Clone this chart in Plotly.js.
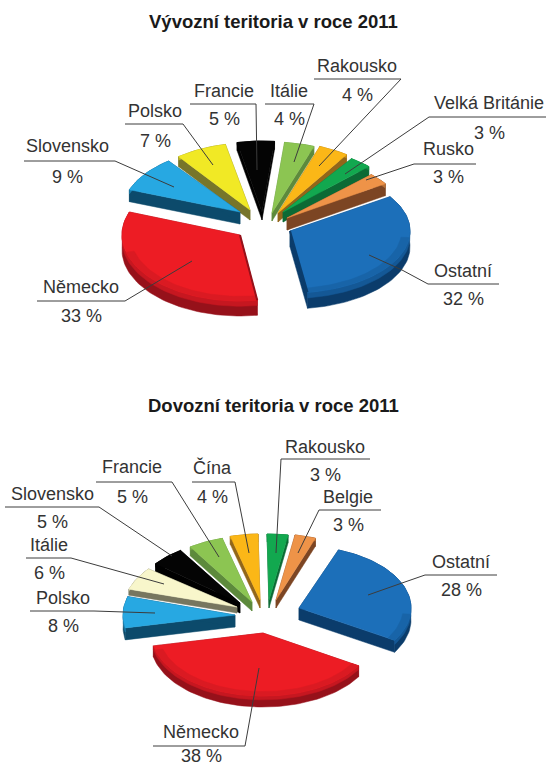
<!DOCTYPE html>
<html lang="cs">
<head>
<meta charset="utf-8">
<title>Vývozní a dovozní teritoria v roce 2011</title>
<script src="https://cdn.plot.ly/plotly-3.0.1.min.js"></script>
<style>html,body{margin:0;padding:0;background:#fff}#chart{width:546px;height:767px}</style>
</head>
<body>
<div id="chart"></div>
<script>
// Shares of trade territories in 2011 (percent)
const exportLabels = ['Itálie','Rakousko','Velká Británie','Rusko','Ostatní','Německo','Slovensko','Polsko','Francie'];
const exportValues = [4,4,3,3,32,33,9,7,5];
const importLabels = ['Rakousko','Belgie','Ostatní','Německo','Polsko','Itálie','Slovensko','Francie','Čína'];
const importValues = [3,3,28,38,8,6,5,5,4];

const exportTitle = 'Vývozní teritoria v roce 2011';
const importTitle = 'Dovozní teritoria v roce 2011';

// Colours per territory: top face and side wall
const BLUE=['#1c6fb9','#0b3c6b'], RED=['#ed1c24','#96111a'], SKY=['#27a8e2','#0c4a6b'],
      YELLOW=['#f1e925','#77752a'], BLACK=['#040404','#000000'], LIME=['#8cc552','#5d8a3c'],
      AMBER=['#fbb717','#92661a'], GREEN=['#12a84f','#0c6a35'], ORANGE=['#ee9348','#7c4523'],
      CREAM=['#f8f6cb','#77765f'];
const exportColors = [LIME,AMBER,GREEN,ORANGE,BLUE,RED,SKY,YELLOW,BLACK];
const importColors = [GREEN,ORANGE,BLUE,RED,SKY,CREAM,BLACK,LIME,AMBER];

// Exploded placement of each wedge: tip position, ellipse radii and extrusion height
const exportPlacement = {
  start: 6,
  tipX: [272,278,283,287,290,240,240,250,262],
  tipY: [213,213,212,218,231,235,212,210,212],
  rx:   [120,120,120,118,120,118,118,118,120],
  ry:   [71,71,65,62,62,66,64,67,71],
  depth:[8,9,10,12,16,15,12,10,8]
};
const importPlacement = {
  start: -1,
  tipX: [269,276,299,263,235,237,240,252,260],
  tipY: [600,600,608,633,615,607,603,602,600],
  rx:   [112,112,112,112,112,113,108,112,112],
  ry:   [66,66,62,63,63,61,63,66,66],
  depth:[8,8,12,11,12,6,10,9,8]
};

// Label boxes and leader paths, one entry per territory
const exportCaptions = [
  {x:289,yName:91,yValue:119,path:[[265,104],[314,104],[294,162]]},
  {x:357,yName:66,yValue:95,path:[[314,79],[401,79],[319,166]]},
  {x:489,yName:103,yValue:133,path:[[546,117],[429,117],[345,174]]},
  {x:448,yName:149,yValue:177,path:[[476,164],[414,164],[366,180]]},
  {x:463,yName:271,yValue:299,path:[[499,284],[428,284],[402,270],[369,255]]},
  {x:81,yName:287,yValue:316,path:[[37,301],[125,301],[192,261]]},
  {x:67,yName:146,yValue:177,path:[[24,161],[115,161],[174,187]]},
  {x:155,yName:111,yValue:141,path:[[125,124],[183,124],[213,165]]},
  {x:224,yName:91,yValue:119,path:[[190,104],[256,104],[257,170]]}
];
const importCaptions = [
  {x:325,yName:447,yValue:475,path:[[370,459],[281,459],[276,553]]},
  {x:348,yName:497,yValue:525,path:[[381,510],[319,510],[298,553]]},
  {x:461,yName:562,yValue:590,path:[[497,575],[425,575],[402,583],[368,595]]},
  {x:201,yName:732,yValue:756,path:[[153,746],[245,746],[259,668]]},
  {x:63,yName:598,yValue:626,path:[[30,611],[94,611],[155,613]]},
  {x:49,yName:545,yValue:573,path:[[26,558],[71,558],[164,584]]},
  {x:52,yName:494,yValue:522,path:[[5,507],[99,507],[172,556]]},
  {x:132,yName:467,yValue:497,path:[[96,482],[172,482],[219,557]]},
  {x:212,yName:467,yValue:497,path:[[192,482],[235,482],[249,553]]}
];

const traces = [], annotations = [];
const rad = d => d * Math.PI / 180;
const FONT = 'Liberation Sans, Arial, sans-serif';

function polygon(pts, color) {
  traces.push({
    type:'scatter', mode:'lines', x:pts.map(p=>p[0]), y:pts.map(p=>p[1]),
    fill:'toself', fillcolor:color, line:{width:0.5,color:color},
    hoverinfo:'skip', showlegend:false
  });
}

function edge(p, q, color) {
  traces.push({type:'scatter',mode:'lines',x:[p[0],q[0]],y:[p[1],q[1]],
    line:{width:2,color:color},hoverinfo:'skip',showlegend:false});
}

function mix(a, b, t) {
  const ca=[1,3,5].map(i=>parseInt(a.substr(i,2),16)), cb=[1,3,5].map(i=>parseInt(b.substr(i,2),16));
  return 'rgb('+ca.map((c,i)=>Math.round(c+(cb[i]-c)*t)).join(',')+')';
}

function drawPie(values, colors, place, captions, labels) {
  const total = values.reduce((s,v)=>s+v,0);
  let a = place.start;
  const wedges = values.map((v,i)=>{
    const a0=a, a1=a+v/total*360; a=a1;
    return {i,a0,a1,mid:(a0+a1)/2};
  });
  // Paint from the far side of the pie towards the viewer
  wedges.sort((p,q)=>Math.abs(((q.mid%360)+360)%360-180)-Math.abs(((p.mid%360)+360)%360-180));
  wedges.forEach(w=>{
    const i=w.i, tx=place.tipX[i], ty=place.tipY[i], rx=place.rx[i], ry=place.ry[i], d=place.depth[i];
    const [top,wall]=colors[i];
    const rim=(ang,k=1)=>[tx+k*rx*Math.sin(rad(ang)), ty-k*ry*Math.cos(rad(ang))];
    const steps=Math.max(6,Math.ceil((w.a1-w.a0)/2));
    const arc=[];
    for(let s=0;s<=steps;s++) arc.push(w.a0+(w.a1-w.a0)*s/steps);
    const down=(p,h)=>[p[0],p[1]+h];
    // Straight walls
    [w.a0,w.a1].forEach(ang=>{
      const r=rim(ang);
      polygon([[tx,ty],r,down(r,d),[tx,ty+d],[tx,ty]],wall);
    });
    // Outer wall in two tones
    const outer=arc.map(x=>rim(x));
    polygon(outer.concat(outer.slice().reverse().map(p=>down(p,d))).concat([outer[0]]),wall);
    polygon(outer.concat(outer.slice().reverse().map(p=>down(p,d*0.35))).concat([outer[0]]),mix(top,wall,0.45));
    // Top face
    polygon([[tx,ty]].concat(outer).concat([[tx,ty]]),top);
    // Darker bevel along the front of the rim
    const front=arc.filter(x=>{const m=((x%360)+360)%360;return m>95&&m<255;});
    if(front.length>2){
      const inner=front.slice().reverse().map(x=>rim(x,0.93));
      const o=front.map(x=>rim(x));
      polygon(o.concat(inner).concat([o[0]]),mix(top,wall,0.22));
    }
    // Thin shaded edge on a cut that faces the viewer
    [w.a0,w.a1].forEach(ang=>{
      if(Math.cos(rad(ang))<-0.8) edge([tx,ty],rim(ang),wall);
    });
  });
  // Captions above the wedges
  captions.forEach((c,i)=>{
    traces.push({type:'scatter',mode:'lines',x:c.path.map(p=>p[0]),y:c.path.map(p=>p[1]),
      line:{color:'#3c3c3c',width:1},hoverinfo:'skip',showlegend:false});
    annotations.push({x:c.x,y:c.yName,text:labels[i],showarrow:false,xref:'x',yref:'y',
      xanchor:'center',yanchor:'middle',font:{family:FONT,size:18,color:'#333'}});
    annotations.push({x:c.x,y:c.yValue,text:values[i]+' %',showarrow:false,xref:'x',yref:'y',
      xanchor:'center',yanchor:'middle',font:{family:FONT,size:18,color:'#333'}});
  });
}

drawPie(exportValues,exportColors,exportPlacement,exportCaptions,exportLabels);
drawPie(importValues,importColors,importPlacement,importCaptions,importLabels);

[[exportTitle,21],[importTitle,405]].forEach(([t,y])=>annotations.push({
  x:273,y:y,text:'<b>'+t+'</b>',showarrow:false,xref:'x',yref:'y',xanchor:'center',yanchor:'middle',
  font:{family:FONT,size:18.5,color:'#1a1a1a'}
}));

Plotly.newPlot('chart',traces,{
  width:546,height:767,margin:{l:0,r:0,t:0,b:0},
  paper_bgcolor:'#fff',plot_bgcolor:'#fff',showlegend:false,hovermode:false,
  xaxis:{range:[0,546],visible:false,fixedrange:true},
  yaxis:{range:[767,0],visible:false,fixedrange:true},
  annotations:annotations
},{displayModeBar:false,staticPlot:true});
</script>
</body>
</html>
